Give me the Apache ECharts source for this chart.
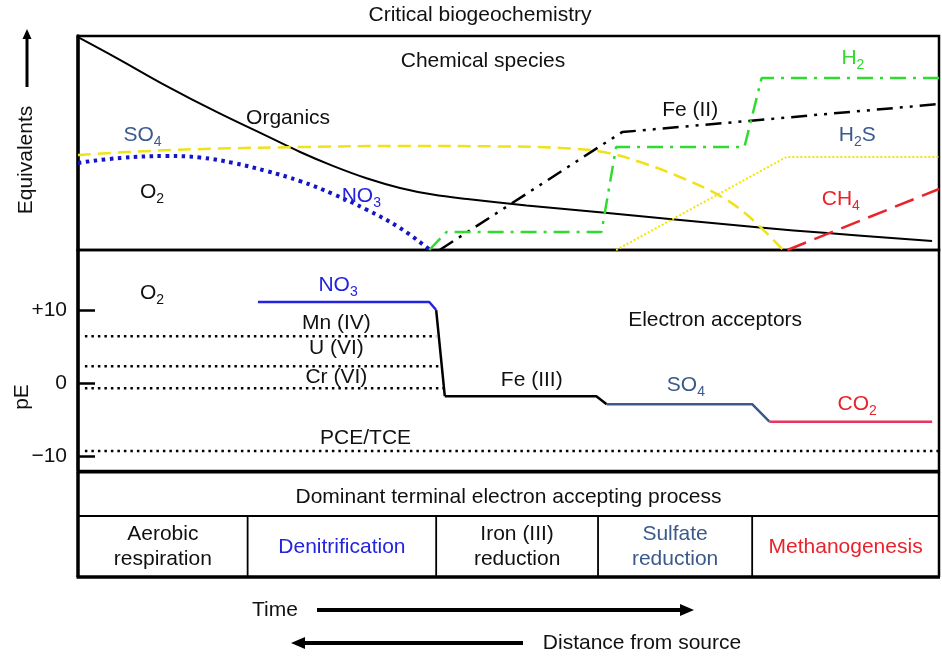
<!DOCTYPE html>
<html>
<head>
<meta charset="utf-8">
<script src="https://cdn.jsdelivr.net/npm/echarts@6/dist/echarts.min.js"></script>
<style>
html, body { margin: 0; padding: 0; background: #fff; }
#chart { width: 942px; height: 657px; }
</style>
</head>
<body>
<div id="chart"></div>
<script>
// x = distance along the plume (0 = left edge, 100 = right edge)
// top panel: equivalents, 0..100 (no scale in the figure)
const organicsX = [0, 4.5, 10.3, 16.1, 21.9, 25.8, 29.6, 33.6, 37.4, 41.2, 45.2, 52.1, 60.9, 68.7, 79.2, 87.0, 99.2];
const organicsY = [99.5, 89.7, 76.6, 64.5, 53.3, 45.8, 39.3, 33.4, 29.0, 25.9, 23.8, 20.8, 17.5, 14.5, 10.5, 7.9, 4.2];
const so4X = [0, 8.4, 16.5, 25.8, 37.4, 49.0, 56.0, 61.0, 65.3, 69.9, 74.6, 78.0, 81.9];
const so4Y = [44.4, 46.3, 47.4, 48.1, 48.6, 48.4, 47.7, 45.8, 41.1, 34.1, 25.2, 15.4, 0];
const o2X = [0, 4.9, 10.3, 14.2, 18.0, 21.9, 25.8, 29.6, 33.6, 37.4, 40.9];
const o2Y = [40.7, 43.0, 43.9, 43.2, 40.7, 36.9, 32.2, 26.2, 18.7, 10.3, 0];
const h2X = [40.8, 42.8, 60.8, 62.5, 77.4, 79.4, 100];
const h2Y = [0, 8.4, 8.4, 48.1, 48.1, 80.4, 80.4];
const fe2X = [42.0, 61.4, 63.2, 100];
const fe2Y = [0, 50.5, 55.1, 68.2];
const h2sX = [62.5, 82.3, 100];
const h2sY = [0, 43.5, 43.5];
const ch4X = [82.4, 100];
const ch4Y = [0, 28.5];

// middle panel: pE of the electron acceptors
const no3AccX = [20.9, 40.8, 41.6];
const no3AccPE = [11.1, 11.1, 10.0];
const dropX = [41.6, 42.6];
const dropPE = [10.0, -1.8];
const fe3X = [42.6, 60.2, 61.4];
const fe3PE = [-1.8, -1.8, -2.9];
const so4AccX = [61.4, 78.3, 80.3];
const so4AccPE = [-2.9, -2.9, -5.3];
const co2X = [80.3, 99.2];
const co2PE = [-5.3, -5.3];
const mnX = [0.8, 41.6], mnPE = [6.4, 6.4];
const uX = [0.8, 42.0], uPE = [2.3, 2.3];
const crX = [0.8, 42.6], crPE = [-0.7, -0.7];
const pceX = [0.8, 100], pcePE = [-9.3, -9.3];
const pETicks = [-10, 0, 10];

// bottom table
const zoneEdges = [0, 19.7, 41.6, 60.4, 78.3, 100];
const zoneNames = ['Aerobic\nrespiration', 'Denitrification', 'Iron (III)\nreduction', 'Sulfate\nreduction', 'Methanogenesis'];
const zoneColors = ['#111', '#2323e0', '#111', '#3a5a8c', '#e8232b'];

const FONT = '"Liberation Sans", Arial, Helvetica, sans-serif';
const BLUE = '#2323e0', SLATE = '#3a5a8c', RED = '#e8232b', GREEN = '#2fdb2f', YELLOW = '#f0e21a';

function pairs(xs, ys) { return xs.map((x, i) => [x, ys[i]]); }

function line(xs, ys, grid, color, width, type, smooth) {
	return {
		type: 'line',
		xAxisIndex: grid,
		yAxisIndex: grid,
		data: pairs(xs, ys),
		symbol: 'none',
		smooth: smooth || false,
		silent: true,
		lineStyle: { color: color, width: width, type: type || 'solid', cap: 'butt' },
		z: 3,
	};
}

const chart = echarts.init(document.getElementById('chart'));

chart.setOption({
	animation: false,
	grid: [
		{ left: 78, right: 3, top: 36, height: 214, show: true, borderColor: '#000', borderWidth: 2.5 },
		{ left: 78, right: 3, top: 250, height: 221, show: true, borderColor: '#000', borderWidth: 2.5 },
	],
	xAxis: [
		{ type: 'value', gridIndex: 0, min: 0, max: 100, show: false },
		{ type: 'value', gridIndex: 1, min: 0, max: 100, show: false },
	],
	yAxis: [
		{
			type: 'value', gridIndex: 0, min: 0, max: 100,
			axisLine: { show: true, lineStyle: { color: '#000', width: 3.5 } },
			axisTick: { show: false }, axisLabel: { show: false }, splitLine: { show: false },
		},
		{
			type: 'value', gridIndex: 1, min: -12.05, max: 18.22,
			axisLine: { show: true, lineStyle: { color: '#000', width: 3.5 } },
			axisTick: { show: true, inside: true, length: 17, customValues: pETicks, lineStyle: { color: '#000', width: 2.5 } },
			axisLabel: {
				customValues: pETicks, margin: 11, fontSize: 21, fontFamily: FONT, color: '#111',
				formatter: function (v) { return v > 0 ? '+' + v : (v < 0 ? '\u2212' + (-v) : '0'); },
			},
			splitLine: { show: false },
		},
	],
	series: [
		line(organicsX, organicsY, 0, '#000', 2, 'solid', 0.4),
		line(so4X, so4Y, 0, YELLOW, 2.5, [13, 7], 0.4),
		line(o2X, o2Y, 0, '#1414c8', 4, [3.5, 4.5], 0.4),
		line(h2sX, h2sY, 0, '#f2e600', 2, [2, 2]),
		line(ch4X, ch4Y, 0, RED, 2.5, [20, 9]),
		line(fe2X, fe2Y, 0, '#000', 2.5, [16, 7, 3, 7, 3, 7]),
		line(h2X, h2Y, 0, GREEN, 2.5, [16, 7, 3, 7]),

		line(mnX, mnPE, 1, '#000', 2.5, [2.5, 4]),
		line(uX, uPE, 1, '#000', 2.5, [2.5, 4]),
		line(crX, crPE, 1, '#000', 2.5, [2.5, 4]),
		line(pceX, pcePE, 1, '#000', 2.5, [2.5, 4]),
		line(no3AccX, no3AccPE, 1, BLUE, 2.5),
		line(dropX, dropPE, 1, '#000', 2.5),
		line(fe3X, fe3PE, 1, '#000', 2.5),
		line(so4AccX, so4AccPE, 1, SLATE, 2.5),
		line(co2X, co2PE, 1, '#e8355f', 2.5),
	],
});

// text annotations, placed in data coordinates
const RICH = {
	n: { fontSize: 21, fontFamily: FONT, padding: [0, 0, 4, 0] },
	s: { fontSize: 14, fontFamily: FONT, verticalAlign: 'bottom' },
};
function chem(a, sub) { return '{n|' + a + '}{s|' + sub + '}'; }

const topLabels = [
	['Organics', 24.4, 61.7, '#111'],
	[chem('SO', '4'), 7.5, 52.8, SLATE],
	[chem('O', '2'), 8.6, 26.2, '#111'],
	[chem('NO', '3'), 32.9, 24.3, BLUE],
	['Fe (II)', 71.1, 65.4, '#111'],
	[chem('H', '2'), 90.0, 88.8, GREEN],
	['{n|H}{s|2}{n|S}', 90.5, 52.8, SLATE],
	[chem('CH', '4'), 88.6, 22.9, RED],
];
const midLabels = [
	[chem('O', '2'), 8.6, 12.05, '#111'],
	[chem('NO', '3'), 30.2, 13.15, BLUE],
	['Mn (IV)', 30.0, 8.15, '#111'],
	['U (VI)', 30.0, 4.73, '#111'],
	['Cr (VI)', 30.0, 0.82, '#111'],
	['PCE/TCE', 33.4, -7.53, '#111'],
	['Electron acceptors', 74.0, 8.63, '#111'],
	['Fe (III)', 52.7, 0.41, '#111'],
	[chem('SO', '4'), 70.6, -0.55, SLATE],
	[chem('CO', '2'), 90.5, -3.15, RED],
];

function text(x, y, str, color, extra) {
	return Object.assign({
		type: 'text', x: x, y: y, silent: true, z: 100,
		style: {
			text: str, fill: color || '#111', fontSize: 21, fontFamily: FONT,
			align: 'center', verticalAlign: 'middle', rich: RICH, lineHeight: 25,
		},
	}, extra || {});
}
function hline(x1, x2, y, w) {
	return { type: 'line', silent: true, z: 50, shape: { x1: x1, y1: y, x2: x2, y2: y }, style: { stroke: '#000', lineWidth: w } };
}
function vline(x, y1, y2, w) {
	return { type: 'line', silent: true, z: 50, shape: { x1: x, y1: y1, x2: x, y2: y2 }, style: { stroke: '#000', lineWidth: w } };
}
function arrowHead(tipX, tipY, dir) {
	// dir: 'right', 'left', 'up'
	let pts;
	if (dir === 'right') pts = [[tipX, tipY], [tipX - 14, tipY - 6], [tipX - 14, tipY + 6]];
	else if (dir === 'left') pts = [[tipX, tipY], [tipX + 14, tipY - 6], [tipX + 14, tipY + 6]];
	else pts = [[tipX, tipY], [tipX - 4.5, tipY + 10], [tipX + 4.5, tipY + 10]];
	return { type: 'polygon', silent: true, z: 50, shape: { points: pts }, style: { fill: '#000' } };
}

const graphics = [];
topLabels.forEach(function (l) {
	const p = chart.convertToPixel({ gridIndex: 0 }, [l[1], l[2]]);
	graphics.push(text(p[0], p[1], l[0], l[3]));
});
midLabels.forEach(function (l) {
	const p = chart.convertToPixel({ gridIndex: 1 }, [l[1], l[2]]);
	graphics.push(text(p[0], p[1], l[0], l[3]));
});

graphics.push(text(480, 15, 'Critical biogeochemistry'));
graphics.push(text(483, 61, 'Chemical species'));

// y axis titles
graphics.push(text(26, 160, 'Equivalents', '#111', { rotation: Math.PI / 2 }));
graphics.push(vline(27, 38, 87, 3));
graphics.push(arrowHead(27, 29, 'up'));
graphics.push(text(22, 397, 'pE', '#111', { rotation: Math.PI / 2 }));

// table of terminal electron accepting processes
const colX = zoneEdges.map(function (v) { return chart.convertToPixel({ xAxisIndex: 1 }, v); });
const tTop = 472, tMid = 516, tBot = 577;
graphics.push(hline(colX[0], colX[5], tTop, 3));
graphics.push(hline(colX[0], colX[5], tMid, 2));
graphics.push(hline(colX[0] - 1.5, colX[5] + 1, tBot, 3.5));
graphics.push(vline(colX[0], tTop, tBot, 3.5));
graphics.push(vline(colX[5], tTop, tBot, 2.5));
for (let i = 1; i < 5; i++) graphics.push(vline(colX[i], tMid, tBot, 1.8));
graphics.push(text((colX[0] + colX[5]) / 2, 497, 'Dominant terminal electron accepting process'));
zoneNames.forEach(function (name, i) {
	graphics.push(text((colX[i] + colX[i + 1]) / 2, 547, name, zoneColors[i]));
});

// time / distance arrows
graphics.push(text(275, 610, 'Time'));
graphics.push(hline(317, 682, 610, 4));
graphics.push(arrowHead(694, 610, 'right'));
graphics.push(hline(303, 523, 643, 4));
graphics.push(arrowHead(291, 643, 'left'));
graphics.push(text(642, 643, 'Distance from source'));

chart.setOption({ graphic: graphics });
</script>
</body>
</html>
